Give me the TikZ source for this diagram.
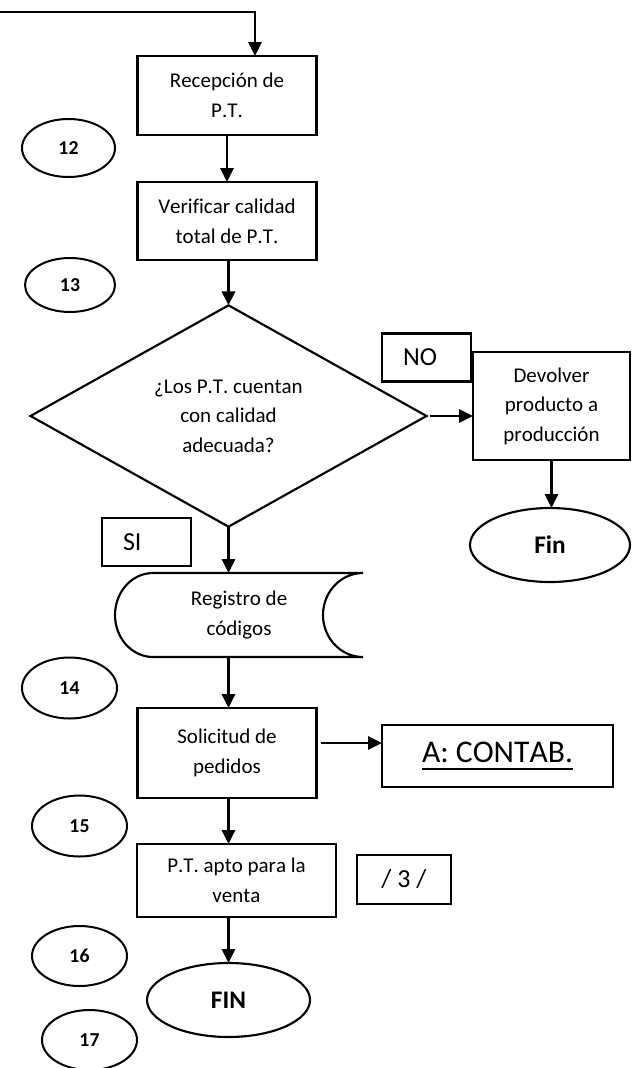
\documentclass[tikz,border=0pt]{standalone}
\usepackage{fontspec}
\setmainfont[Ligatures=NoCommon,Kerning=Off]{Carlito}
\usetikzlibrary{shapes.geometric,arrows.meta,calc}
% thick underline for the off-page reference
\newcommand\cbul[1]{\setbox0\hbox{#1}\rlap{\rule[-6pt]{\wd0}{1.5pt}}\box0}
\begin{document}
\begin{tikzpicture}[x=0.75pt,y=-0.75pt,
  every node/.style={inner sep=0pt, outer sep=0pt},
  sz/.style 2 args={minimum width={#1*0.75pt}, minimum height={#2*0.75pt}},
  bodytext/.style={font=\fontsize{15.75}{22.2}\selectfont},
  proc/.style={draw, line width=1.6pt, rectangle, align=center, bodytext},
  tagbox/.style={draw, line width=1.6pt, rectangle, align=left,
    font=\fontsize{19.5}{22}\selectfont, inner xsep=15.75pt, text width={#1*0.75pt-31.5pt}},
  num/.style={draw, ellipse, line width=1.5pt, font=\bfseries\fontsize{14.8}{16}\selectfont},
  term/.style={draw, ellipse, line width=1.6pt, font=\bfseries\fontsize{19}{22}\selectfont},
  arr/.style={line width=1.7pt, -{Triangle[width=10pt,length=10.5pt]}},
]
\useasboundingbox (0,0) rectangle (632,1068);

% main column
\node[proc, sz={179}{79}] (b1) at (227,95.5) {Recepción de\\P.T.};
\node[proc, sz={179}{78}] (b2) at (227,221) {Verificar calidad\\total de P.T.};
\node[draw, diamond, line width=1.6pt, sz={396}{220}, align=center, bodytext] (dia) at (228.5,416)
  {¿Los P.T. cuentan\\con calidad\\adecuada?};
\node[sz={248}{84}, align=center, bodytext] (reg) at (239,615) {Registro de\\códigos};
\draw[line width=1.6pt] ($(reg.north west)+(38,0)$) -- (reg.north east)
  arc[start angle=90, end angle=270, x radius=30pt, y radius=31.5pt]
  -- ($(reg.south west)+(38,0)$)
  arc[start angle=270, end angle=90, x radius=28.5pt, y radius=31.5pt] -- cycle;
\node[proc, sz={179}{90}] (sol) at (227,753) {Solicitud de\\pedidos};
\node[proc, sz={199}{73}] (apto) at (236.5,880.5) {P.T. apto para la\\venta};
\node[term, sz={163}{74}] (fin2) at (228.5,1000) {FIN};

% branch for rejected product
\node[proc, sz={157}{108}] (dev) at (551.5,406) {Devolver\\producto a\\producción};
\node[term, sz={160}{74}] (fin1) at (550,545) {Fin};

% decision labels and side boxes
\node[tagbox=89, sz={89}{48}] (no) at (426.5,357.5) {NO};
\node[tagbox=89, sz={89}{48}] (si) at (146.5,542) {SI};
\node[draw, line width=1.6pt, sz={231}{62}, font=\fontsize{23.7}{26}\selectfont] (cont) at (497.5,756) {\cbul{A: CONTAB.}};
\node[draw, line width=1.6pt, sz={94}{49}, font=\fontsize{19.5}{22}\selectfont] (pag) at (404,879.5) {/ 3 /};

% step numbers
\node[num, sz={93}{58}] (n12) at (68.5,148) {12};
\node[num, sz={90}{54}] (n13) at (70,285) {13};
\node[num, sz={95}{61}] (n14) at (69.5,688) {14};
\node[num, sz={95}{61}] (n15) at (79.5,826) {15};
\node[num, sz={95}{60}] (n16) at (79.5,956) {16};
\node[num, sz={95}{60}] (n17) at (89.5,1040) {17};

% connectors
\coordinate (entry) at (0,12);
\draw[arr] (entry) -| ($(b1.north)+(28,0)$);
\draw[arr] (b1.south) -- (b2.north);
\draw[arr] (dia.north |- b2.south) -- (dia.north);
\draw[arr] ($(dia.east)+(3,0)$) -- (dia.east -| dev.west);
\draw[arr] (dev.south) -- (dev.south |- fin1.north);
\draw[arr] (dia.south) -- (dia.south |- reg.north);
\draw[arr] (dia.south |- reg.south) -- (dia.south |- sol.north);
\coordinate (solout) at ($(sol.east)+(4,-10)$);
\draw[arr] (solout) -- (solout -| cont.west);
\draw[arr] (dia.south |- sol.south) -- (dia.south |- apto.north);
\draw[arr] (dia.south |- apto.south) -- (dia.south |- fin2.north);
\end{tikzpicture}
\end{document}
